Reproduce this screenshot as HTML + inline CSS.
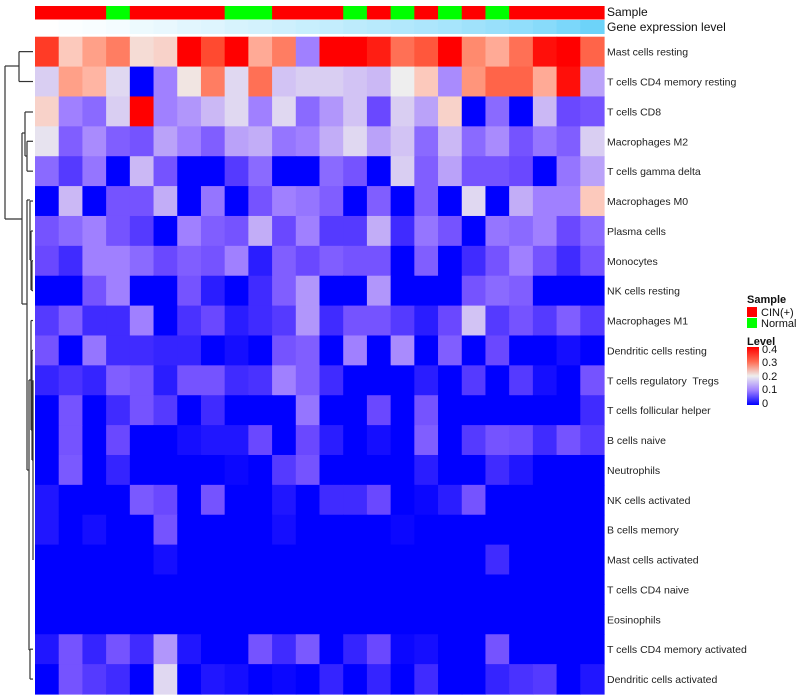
<!DOCTYPE html>
<html><head><meta charset="utf-8"><style>
html,body{margin:0;padding:0;background:#fff;}
svg{display:block;font-family:"Liberation Sans",sans-serif;}
text{white-space:pre;}
</style></head><body>
<svg id="chart" width="800" height="700">
<g id="dendro" stroke="#333" fill="none" stroke-width="1.2"></g>
<g id="cells"></g>
<g id="annot"></g>
<g id="labels" font-size="10.5" fill="#222"></g>
<text x="607" y="16" font-size="12" fill="#111">Sample</text>
<text x="607" y="31" font-size="12" fill="#111">Gene expression level</text>
<g font-size="11" fill="#111">
  <text x="747" y="303" font-weight="bold">Sample</text>
  <rect x="747" y="307" width="10" height="10" fill="#ff0000"/>
  <text x="761" y="316">CIN(+)</text>
  <rect x="747" y="318" width="10" height="10" fill="#00ff00"/>
  <text x="761" y="327">Normal</text>
  <text x="747" y="345" font-weight="bold">Level</text>
  <defs><linearGradient id="lg" x1="0" y1="0" x2="0" y2="1">
    <stop offset="0" stop-color="#ff0000"/><stop offset="0.25" stop-color="#ff6a50"/>
    <stop offset="0.5" stop-color="#eeeeee"/><stop offset="0.75" stop-color="#a080ff"/>
    <stop offset="1" stop-color="#0000ff"/></linearGradient></defs>
  <rect x="747" y="347" width="12" height="58" fill="url(#lg)"/>
  <text x="762" y="353">0.4</text>
  <text x="762" y="366">0.3</text>
  <text x="762" y="380">0.2</text>
  <text x="762" y="393">0.1</text>
  <text x="762" y="407">0</text>
</g>
</svg>
<script>
const rowNames=["Mast cells resting","T cells CD4 memory resting","T cells CD8","Macrophages M2","T cells gamma delta","Macrophages M0","Plasma cells","Monocytes","NK cells resting","Macrophages M1","Dendritic cells resting","T cells regulatory  Tregs","T cells follicular helper","B cells naive","Neutrophils","NK cells activated","B cells memory","Mast cells activated","T cells CD4 naive","Eosinophils","T cells CD4 memory activated","Dendritic cells activated"];
const sampleGroups=["CIN","CIN","CIN","Normal","CIN","CIN","CIN","CIN","Normal","Normal","CIN","CIN","CIN","Normal","CIN","Normal","CIN","Normal","CIN","Normal","CIN","CIN","CIN","CIN"];
const geneLevels=[0,0.02,0.04,0.06,0.1,0.12,0.16,0.18,0.22,0.24,0.27,0.3,0.33,0.36,0.39,0.42,0.45,0.48,0.52,0.56,0.6,0.65,0.72,0.8];
const values=[
[0.36,0.24,0.28,0.31,0.22,0.23,0.4,0.35,0.4,0.27,0.31,0.1,0.4,0.4,0.38,0.32,0.34,0.4,0.3,0.27,0.32,0.39,0.4,0.33],
[0.17,0.28,0.26,0.18,0,0.1,0.21,0.31,0.18,0.32,0.16,0.17,0.17,0.16,0.15,0.2,0.24,0.11,0.29,0.33,0.33,0.27,0.39,0.13],
[0.23,0.1,0.08,0.17,0.4,0.1,0.12,0.15,0.18,0.1,0.18,0.08,0.12,0.16,0.05,0.17,0.13,0.23,0,0.08,0,0.15,0.05,0.06],
[0.19,0.07,0.11,0.07,0.06,0.13,0.1,0.07,0.13,0.14,0.09,0.1,0.14,0.18,0.13,0.16,0.08,0.15,0.08,0.11,0.06,0.09,0.07,0.17],
[0.08,0.04,0.09,0,0.15,0.06,0,0,0.04,0.08,0,0,0.08,0.06,0,0.17,0.07,0.13,0.06,0.06,0.05,0,0.09,0.13],
[0,0.15,0,0.06,0.06,0.14,0,0.09,0,0.06,0.1,0.09,0.07,0,0.07,0,0.07,0,0.18,0,0.14,0.1,0.1,0.24],
[0.06,0.08,0.1,0.06,0.04,0,0.1,0.07,0.06,0.14,0.05,0.1,0.04,0.04,0.14,0.03,0.09,0.06,0,0.09,0.08,0.1,0.05,0.08],
[0.05,0.03,0.1,0.1,0.08,0.05,0.07,0.06,0.1,0.02,0.07,0.05,0.07,0.06,0.06,0,0.07,0,0.03,0.06,0.1,0.06,0.03,0.06],
[0,0,0.06,0.1,0,0,0.06,0.02,0,0.03,0.07,0.12,0,0,0.12,0,0,0,0.06,0.08,0.07,0,0,0],
[0.04,0.07,0.03,0.03,0.1,0,0.035,0.05,0.02,0.03,0.04,0.12,0.03,0.06,0.06,0.04,0.02,0.05,0.16,0.04,0.06,0.04,0.07,0.04],
[0.06,0,0.09,0.03,0.03,0.025,0.025,0,0.01,0,0.06,0.07,0,0.1,0,0.11,0,0.07,0,0.05,0,0,0.01,0],
[0.025,0.035,0.025,0.07,0.06,0.02,0.06,0.06,0.03,0.035,0.1,0.07,0.03,0,0,0,0.02,0,0.04,0,0.04,0.01,0,0.06],
[0,0.06,0,0.03,0.06,0.04,0,0.03,0,0,0,0.09,0,0,0.05,0,0.06,0,0,0,0,0,0,0.03],
[0,0.06,0,0.05,0,0,0.01,0.015,0.015,0.05,0,0.05,0.02,0,0.01,0,0.07,0,0.04,0.06,0.055,0.03,0.06,0.04],
[0,0.065,0,0.025,0,0,0,0,0.005,0,0.04,0.06,0,0,0,0,0.02,0,0,0.03,0.015,0,0,0],
[0.015,0,0,0,0.065,0.05,0,0.06,0,0,0.015,0,0.03,0.03,0.05,0,0.005,0.02,0.06,0,0,0,0,0],
[0.015,0,0.01,0,0,0.06,0,0,0,0,0.01,0,0,0,0,0.005,0,0,0,0,0,0,0,0],
[0,0,0,0,0,0.01,0,0,0,0,0,0,0,0,0,0,0,0,0,0.03,0,0,0,0],
[0,0,0,0,0,0,0,0,0,0,0,0,0,0,0,0,0,0,0,0,0,0,0,0],
[0,0,0,0,0,0,0,0,0,0,0,0,0,0,0,0,0,0,0,0,0,0,0,0],
[0.015,0.06,0.025,0.06,0.03,0.12,0.015,0,0,0.06,0.03,0.065,0,0.025,0.05,0.005,0.01,0,0,0.06,0,0,0,0],
[0,0.06,0.04,0.03,0,0.18,0,0.015,0.01,0,0.005,0,0.025,0,0.025,0,0.03,0,0,0.025,0.035,0.04,0,0.015]
];
const X0=35,X1=604,Y0=36.7,Y1=694;
const nC=values[0].length,nR=values.length,cw=(X1-X0)/nC,rh=(Y1-Y0)/nR;
const xPos=c=>X0+c*cw, yPos=r=>Y0+r*rh;
const stops=[[0,[0,0,255]],[0.05,[106,72,255]],[0.1,[160,128,255]],[0.15,[203,184,245]],[0.2,[238,238,238]],[0.25,[255,192,176]],[0.3,[255,138,110]],[0.35,[255,74,48]],[0.4,[255,0,0]]];
function col(v){v=Math.max(0,Math.min(0.4,v));for(let i=1;i<stops.length;i++){if(v<=stops[i][0]){const a=stops[i-1],b=stops[i],t=(v-a[0])/(b[0]-a[0]);return 'rgb('+a[1].map((x,k)=>Math.round(x+(b[1][k]-x)*t)).join(',')+')';}}return 'rgb(255,0,0)';}
const NS='http://www.w3.org/2000/svg';
function mk(tag,at,p){const e=document.createElementNS(NS,tag);for(const k in at)e.setAttribute(k,at[k]);p.appendChild(e);return e;}
const cells=document.getElementById('cells');
values.forEach((row,r)=>row.forEach((v,c)=>{
 const e=mk('rect',{x:xPos(c),y:yPos(r),width:cw+0.6,height:rh+0.6,fill:col(v)},cells);
 
 
}));
const annot=document.getElementById('annot');
sampleGroups.forEach((g,c)=>{
 const e=mk('rect',{x:xPos(c),y:6,width:cw+0.6,height:13.5,fill:g==='CIN'?'#ff0000':'#00ff00'},annot);
 
 
});
geneLevels.forEach((g,c)=>{
 const r=Math.round(255+(72-255)*g),gg=Math.round(255+(200-255)*g),b=Math.round(255+(248-255)*g);
 const e=mk('rect',{x:xPos(c),y:20,width:cw+0.6,height:14,fill:'rgb('+r+','+gg+','+b+')'},annot);
 
 
});
const labels=document.getElementById('labels');
rowNames.forEach((n,r)=>{
 const e=mk('text',{x:607,y:yPos(r)+rh/2+4},labels);
 e.textContent=n;
 
 
});
const d=document.getElementById('dendro');
const yc=r=>yPos(r)+rh/2;
const segs=[
 [19,yc(0),19,yc(1)],[19,yc(0),33,yc(0)],[19,yc(1),33,yc(1)],
 [5,66,5,219],[5,66,19,66],[5,219,22,219],
 [22,133,22,304],[22,133,25,133],[22,304,27,304],
 [25,112,25,156],[25,112,33,112],[25,156,27,156],
 [27,yc(3),27,yc(4)],[27,yc(3),33,yc(3)],[27,yc(4),33,yc(4)],
 [27,200,27,470],[27,200,30,200],[27,470,29,470],
 [30,yc(5),30,260],[30,yc(5),33,yc(5)],[30,260,31,260],
 [31,231,31,290],[31,231,33,231],[31,290,32,290],
 [32,yc(7),32,yc(8)],[32,yc(7),33,yc(7)],[32,yc(8),33,yc(8)],
 [29,380,29,650],[29,380,31,380],[29,650,30,650],
 [31,yc(9),31,430],[31,yc(9),33,yc(9)],[31,430,32,430],
 [32,yc(10),32,460],[32,yc(10),33,yc(10)],[32,460,33,460],
 [33,yc(11),33,560],
 [30,yc(20),30,yc(21)],[30,yc(20),33,yc(20)],[30,yc(21),33,yc(21)]
];
segs.forEach(s=>{
 const e=mk('line',{x1:s[0],y1:s[1],x2:s[2],y2:s[3]},d);
 
 
});
</script>
</body></html>
